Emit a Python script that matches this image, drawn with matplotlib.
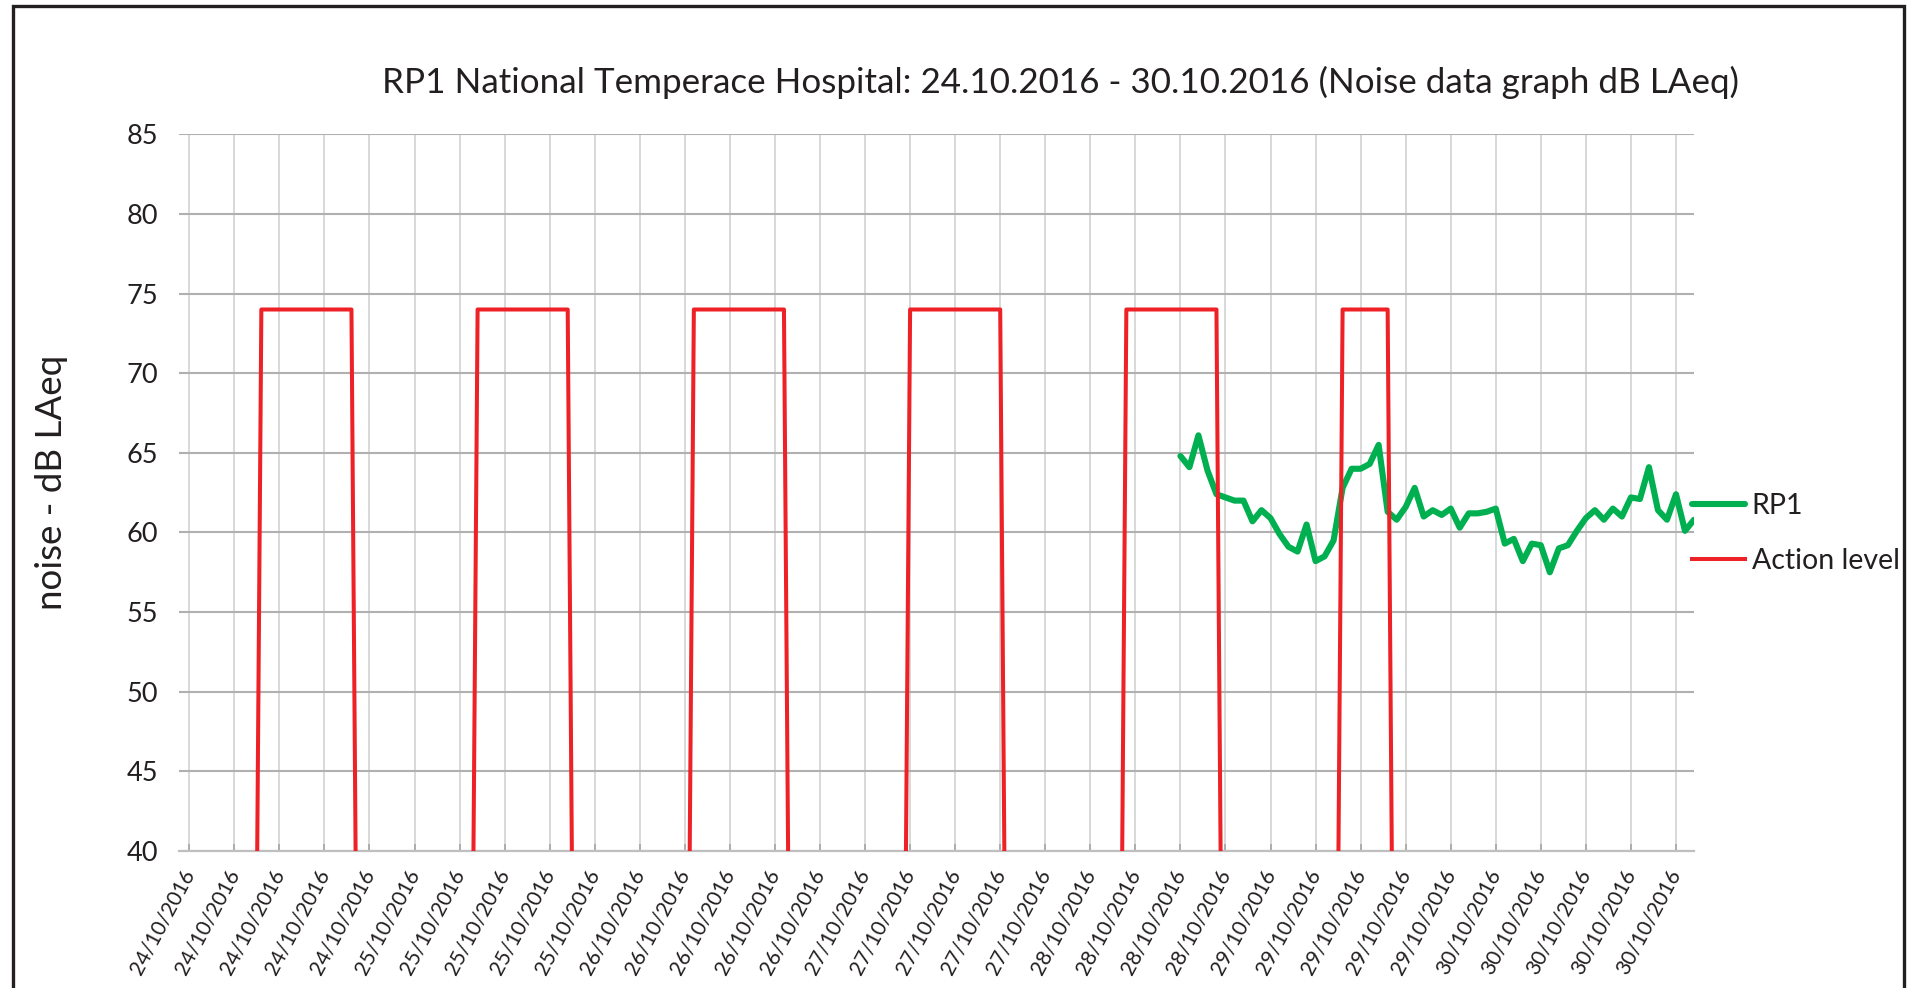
import numpy as np
import matplotlib
matplotlib.use('Agg')
import matplotlib.pyplot as plt
from matplotlib.patches import Rectangle

plt.rcParams['font.family'] = ['Lato', 'DejaVu Sans']

TEXT = '#231f20'

# action level per hour, one row per day (24/10 .. 30/10)
action_level = (
    [0] * 8 + [74] * 11 + [0] * 5     # 24/10 Mon
    + [0] * 8 + [74] * 11 + [0] * 5   # 25/10
    + [0] * 8 + [74] * 11 + [0] * 5   # 26/10
    + [0] * 8 + [74] * 11 + [0] * 5   # 27/10
    + [0] * 8 + [74] * 11 + [0] * 5   # 28/10
    + [0] * 8 + [74] * 6 + [0] * 10   # 29/10 Sat
    + [0] * 24                        # 30/10 Sun
)

# RP1 measured dB LAeq, hourly; meter only running from 28/10 afternoon
rp1 = [np.nan] * 110 + [
    64.8, 64.1, 66.1, 63.9, 62.4, 62.2, 62.0, 62.0, 60.7, 61.4,
    60.9, 59.9, 59.1, 58.8, 60.5, 58.2, 58.5, 59.5, 62.8, 64.0,
    64.0, 64.3, 65.5, 61.3, 60.8, 61.6, 62.8, 61.0, 61.4, 61.1,
    61.5, 60.3, 61.2, 61.2, 61.3, 61.5, 59.3, 59.6, 58.2, 59.3,
    59.2, 57.5, 59.0, 59.2, 60.1, 60.9, 61.4, 60.8, 61.5, 61.0,
    62.2, 62.1, 64.1, 61.4, 60.8, 62.4, 60.1, 60.8,
]

tick_labels = (
    ['24/10/2016'] * 5 + ['25/10/2016'] * 5 + ['26/10/2016'] * 5
    + ['27/10/2016'] * 5 + ['28/10/2016'] * 4 + ['29/10/2016'] * 5
    + ['30/10/2016'] * 5
)

title = 'RP1 National Temperace Hospital: 24.10.2016 - 30.10.2016 (Noise data graph dB LAeq)'

fig = plt.figure(figsize=(19.28, 9.88), dpi=100)
ax = fig.add_axes([179 / 1928, 1 - 851 / 988, (1694 - 179) / 1928, (851 - 134.3) / 988])

x = np.arange(len(action_level))
ax.plot(x, rp1, color='#00b050', lw=4.4, solid_joinstyle='round',
        solid_capstyle='round', label='RP1', zorder=3)
ax.plot(x, action_level, color='#ee2127', lw=2.9, solid_joinstyle='round',
        label='Action level', zorder=4)

ax.set_ylim(40, 85)
ax.set_yticks(range(40, 90, 5))
ax.set_xlim(-1.14, 167)
ax.set_xticks(x[::5])
ax.set_xticklabels(tick_labels, rotation=62, ha='right', va='center',
                   rotation_mode='anchor', fontsize=15, color=TEXT)

ax.tick_params(axis='y', length=0, pad=15, labelsize=19.5, labelcolor=TEXT)
ax.tick_params(axis='x', direction='in', length=5, width=1.2, color='#a6a6a6', pad=14)

for side in ['left', 'top', 'right']:
    ax.spines[side].set_visible(False)
ax.spines['bottom'].set_color('#bfbfbf')
ax.spines['bottom'].set_linewidth(1.6)

ax.set_axisbelow(True)
ax.grid(axis='y', color='#b0b0b0', lw=1.5)
ax.grid(axis='x', color='#d6d6d6', lw=1.3)

ax.legend(loc='center left', bbox_to_anchor=(1692 / 1928, 1 - 533.5 / 988),
          bbox_transform=fig.transFigure, frameon=False, fontsize=20.5,
          handlelength=1.85, handletextpad=0.25, borderaxespad=0, borderpad=0,
          labelspacing=1.05, labelcolor=TEXT)

fig.text(1060 / 1928, 1 - 93.3 / 988, title, ha='center', va='baseline',
         fontsize=25.2, color=TEXT)
fig.text(52 / 1928, 1 - 482 / 988, 'noise - dB LAeq', rotation=90,
         ha='center', va='center', fontsize=26.5, color=TEXT)

# outer chart border (bottom edge runs off the picture)
fig.patches.append(Rectangle((13 / 1928, -0.05), (1904 - 13) / 1928, 1.05 - 5.5 / 988,
                             transform=fig.transFigure, fill=False,
                             edgecolor=TEXT, lw=2.4))

fig.savefig('out.png', dpi=100)
plt.close('all')
